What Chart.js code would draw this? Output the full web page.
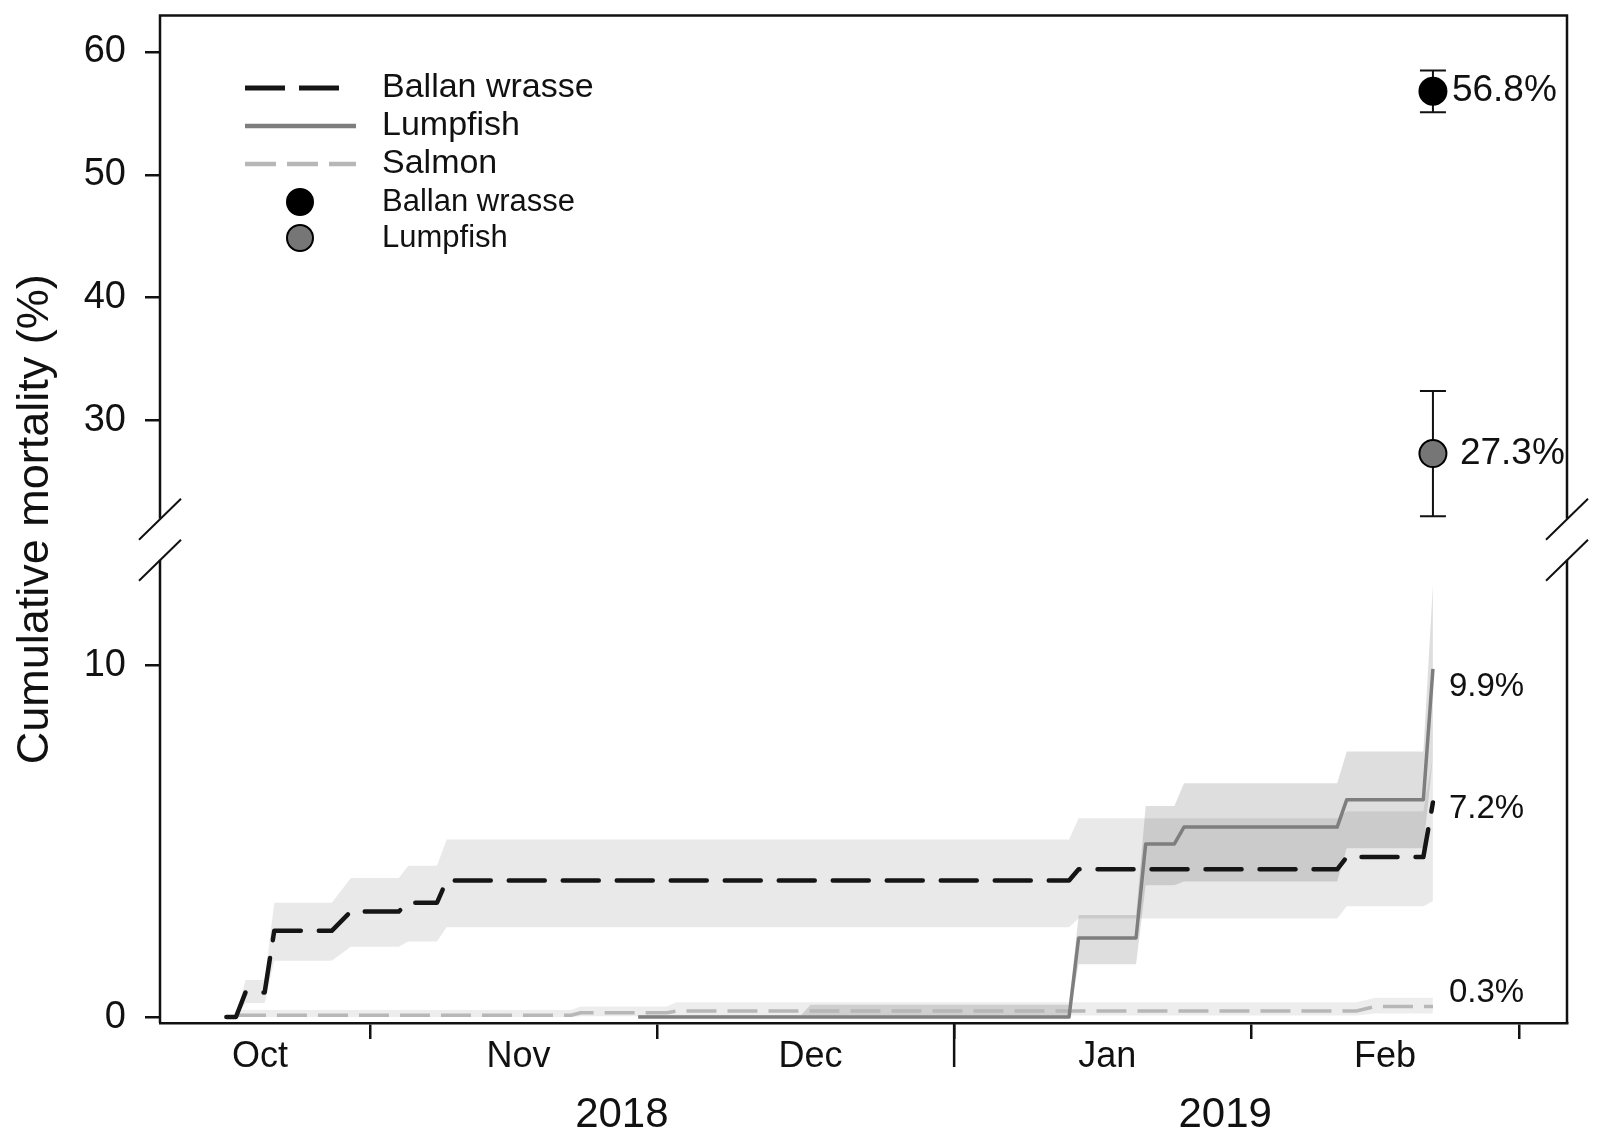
<!DOCTYPE html>
<html>
<head>
<meta charset="utf-8">
<script src="https://cdn.jsdelivr.net/npm/chart.js@4.4.1/dist/chart.umd.min.js"></script>
<style>
  html, body { margin: 0; padding: 0; background: #fff; }
  #wrap { width: 1600px; height: 1146px; }
</style>
</head>
<body>
<div id="wrap"><canvas id="mortalityChart"></canvas></div>
<script>
// x values are days counted from 1 Oct 2018 (= day 0)
const ballanDays = [16, 17, 18, 20, 21, 27, 29, 34, 35, 38, 39, 104, 105, 132, 133, 141, 142]
const ballanMean = [0, 0, 0.7, 0.7, 2.45, 2.45, 3.0, 3.0, 3.25, 3.25, 3.88, 3.88, 4.2, 4.2, 4.55, 4.55, 6.1]
const ballanLow  = [0, 0, 0.4, 0.4, 1.6, 1.6, 2.0, 2.0, 2.15, 2.15, 2.55, 2.55, 2.8, 2.8, 3.15, 3.15, 3.3]
const ballanHigh = [0, 0, 1.05, 1.05, 3.25, 3.25, 3.95, 3.95, 4.3, 4.3, 5.05, 5.05, 5.65, 5.65, 5.85, 5.85, 7.4]

const lumpDays = [59, 76, 77, 104, 105, 111, 112, 115, 116, 132, 133, 141, 142]
const lumpMean = [0, 0, 0, 0, 2.25, 2.25, 4.92, 4.92, 5.4, 5.4, 6.18, 6.18, 9.9]
const lumpLow  = [0, 0, 0, 0, 1.5, 1.5, 3.75, 3.75, 3.85, 3.85, 4.8, 4.8, 7.4]
const lumpHigh = [0.05, 0.05, 0.35, 0.35, 2.9, 2.9, 6.0, 6.0, 6.65, 6.65, 7.55, 7.55, 12.3]

const salmonDays = [17, 52, 53, 62, 63, 134, 136, 142]
const salmonMean = [0.05, 0.05, 0.12, 0.12, 0.17, 0.17, 0.3, 0.3]
const salmonLow  = [0, 0, 0.02, 0.02, 0.04, 0.04, 0.1, 0.1]
const salmonHigh = [0.2, 0.2, 0.3, 0.3, 0.42, 0.42, 0.55, 0.55]

const pointSpecies = ['Ballan wrasse', 'Lumpfish']
const pointDay = 142
const pointValues = [56.8, 27.3]
const pointLow = [55.1, 22.2]
const pointHigh = [58.5, 32.4]

const monthTicks = [31, 61, 92, 123, 151]
const monthLabels = ['Oct', 'Nov', 'Dec', 'Jan', 'Feb']
const monthLabelDays = [19.5, 46.5, 77, 108, 137]
const yearLabels = ['2018', '2019']
const yearLabelDays = [57.3, 120.3]
const upperTicks = [30, 40, 50, 60]
const lowerTicks = [0, 10]

const endLabels = ['56.8%', '27.3%', '9.9%', '7.2%', '0.3%']
const endLabelValues = [56.8, 27.3, 9.38, 5.92, 0.68]

const FONT = "'Liberation Sans', Arial, Helvetica, sans-serif"
const INK = '#111'
const BALLAN_COLOR = '#151515'
const LUMP_COLOR = '#7e7e7e'
const SALMON_COLOR = '#b7b7b7'
const breakUpper = 22.0
const breakLower = 13.0

const toXY = (days, vals) => days.map((d, i) => ({ x: d, y: vals[i] }))

const bandLow = (days, vals) => ({
    data: toXY(days, vals), yAxisID: 'yBot', borderWidth: 0, pointRadius: 0, fill: false, order: 10
})
const bandHigh = (days, vals, color) => ({
    data: toXY(days, vals), yAxisID: 'yBot', borderWidth: 0, pointRadius: 0,
    fill: '-1', backgroundColor: color, order: 10
})

const decor = {
    id: 'decor',
    beforeDatasetsDraw(chart) {
        const { ctx } = chart
        const x = chart.scales.x.getPixelForValue(pointDay)
        const y = chart.scales.yTop
        ctx.save()
        ctx.strokeStyle = INK
        ctx.lineWidth = 2
        pointValues.forEach((v, i) => {
            const lo = y.getPixelForValue(pointLow[i])
            const hi = y.getPixelForValue(pointHigh[i])
            ctx.beginPath()
            ctx.moveTo(x, lo); ctx.lineTo(x, hi)
            ctx.moveTo(x - 13, lo); ctx.lineTo(x + 13, lo)
            ctx.moveTo(x - 13, hi); ctx.lineTo(x + 13, hi)
            ctx.stroke()
        })
        ctx.restore()
    },
    afterDraw(chart) {
        const { ctx, chartArea } = chart
        const { left, right, top, bottom } = chartArea
        const yUp = chart.scales.yTop.getPixelForValue(breakUpper)
        const yLo = chart.scales.yBot.getPixelForValue(breakLower)
        ctx.save()
        ctx.strokeStyle = INK
        ctx.lineWidth = 2.5
        ctx.lineCap = 'butt'
        ctx.beginPath()
        ctx.moveTo(left, yUp); ctx.lineTo(left, top); ctx.lineTo(right, top); ctx.lineTo(right, yUp)
        ctx.moveTo(left, yLo); ctx.lineTo(left, bottom)
        ctx.moveTo(right, yLo); ctx.lineTo(right, bottom)
        ctx.stroke()

        ctx.lineWidth = 2
        ctx.beginPath()
        ;[left, right].forEach(bx => {
            ;[yUp, yLo].forEach(by => {
                ctx.moveTo(bx - 21, by + 21)
                ctx.lineTo(bx + 21, by - 20)
            })
        })
        ctx.stroke()

        // longer tick at the year boundary
        const jan = chart.scales.x.getPixelForValue(monthTicks[2])
        ctx.lineWidth = 2.5
        ctx.beginPath()
        ctx.moveTo(jan, bottom); ctx.lineTo(jan, bottom + 44)
        ctx.stroke()

        ctx.fillStyle = INK
        ctx.textBaseline = 'middle'

        // y axis title
        ctx.save()
        ctx.translate(36, (top + bottom) / 2)
        ctx.rotate(-Math.PI / 2)
        ctx.textAlign = 'center'
        ctx.font = `45px ${FONT}`
        ctx.fillText('Cumulative mortality (%)', 0, 0)
        ctx.restore()

        // end labels
        const px = chart.scales.x.getPixelForValue(pointDay)
        ctx.textAlign = 'left'
        endLabels.forEach((t, i) => {
            const upper = i < 2
            const scale = upper ? chart.scales.yTop : chart.scales.yBot
            ctx.font = `${upper ? 37 : 33}px ${FONT}`
            const dx = i === 0 ? 19 : i === 1 ? 27 : 16
            ctx.fillText(t, px + dx, scale.getPixelForValue(endLabelValues[i]))
        })

        // legend
        const lx = 245, tx = 382
        ctx.font = `34px ${FONT}`
        ctx.lineCap = 'butt'
        ctx.strokeStyle = BALLAN_COLOR
        ctx.lineWidth = 5
        ctx.setLineDash([40, 14])
        ctx.beginPath(); ctx.moveTo(lx, 88); ctx.lineTo(lx + 95, 88); ctx.stroke()
        ctx.setLineDash([])
        ctx.strokeStyle = LUMP_COLOR
        ctx.lineWidth = 4.5
        ctx.beginPath(); ctx.moveTo(lx, 126); ctx.lineTo(lx + 111, 126); ctx.stroke()
        ctx.strokeStyle = SALMON_COLOR
        ctx.setLineDash([31, 11])
        ctx.beginPath(); ctx.moveTo(lx, 164); ctx.lineTo(lx + 111, 164); ctx.stroke()
        ctx.setLineDash([])
        ctx.fillText('Ballan wrasse', tx, 88)
        ctx.fillText('Lumpfish', tx, 126)
        ctx.fillText('Salmon', tx, 164)
        ctx.font = `31px ${FONT}`
        ;[['#000', 202], ['#767676', 238]].forEach(([c, cy], i) => {
            ctx.beginPath()
            ctx.arc(300, cy, 13, 0, Math.PI * 2)
            ctx.fillStyle = c
            ctx.fill()
            ctx.lineWidth = 2
            ctx.strokeStyle = '#000'
            ctx.stroke()
            ctx.fillStyle = INK
            ctx.fillText(pointSpecies[i], tx, cy)
        })
        ctx.restore()
    }
}

const yCommon = {
    type: 'linear',
    position: 'left',
    stack: 'y',
    border: { display: false },
    grid: { drawOnChartArea: false, drawTicks: true, tickLength: 15, color: INK, lineWidth: 2.5 },
    ticks: { font: { family: FONT, size: 38 }, color: INK, padding: 19 },
    afterFit: s => { s.width = 160; s.paddingTop = 0; s.paddingBottom = 0 }
}

const xFit = h => s => { s.height = h; s.paddingLeft = 0; s.paddingRight = 0 }

const xCommon = { type: 'linear', position: 'bottom', min: 9.07, max: 156 }

new Chart(document.getElementById('mortalityChart'), {
    type: 'line',
    data: {
        datasets: [
            bandLow(ballanDays, ballanLow),
            bandHigh(ballanDays, ballanHigh, 'rgba(0,0,0,0.085)'),
            bandLow(lumpDays, lumpLow),
            bandHigh(lumpDays, lumpHigh, 'rgba(0,0,0,0.13)'),
            bandLow(salmonDays, salmonLow),
            bandHigh(salmonDays, salmonHigh, 'rgba(0,0,0,0.07)'),
            {
                label: 'Salmon', data: toXY(salmonDays, salmonMean), yAxisID: 'yBot',
                borderColor: SALMON_COLOR, borderWidth: 3.5, borderDash: [30, 11],
                pointRadius: 0, fill: false, order: 3
            },
            {
                label: 'Lumpfish', data: toXY(lumpDays, lumpMean), yAxisID: 'yBot',
                borderColor: LUMP_COLOR, borderWidth: 3.5, pointRadius: 0, fill: false, order: 2
            },
            {
                label: 'Ballan wrasse', data: toXY(ballanDays, ballanMean), yAxisID: 'yBot',
                borderColor: BALLAN_COLOR, borderWidth: 4.5, borderDash: [36, 18], borderCapStyle: 'round',
                pointRadius: 0, fill: false, order: 1
            },
            {
                type: 'scatter', label: pointSpecies[0], data: [{ x: pointDay, y: pointValues[0] }], yAxisID: 'yTop',
                pointRadius: 13.5, backgroundColor: '#000', borderColor: '#000', borderWidth: 2, order: 0
            },
            {
                type: 'scatter', label: pointSpecies[1], data: [{ x: pointDay, y: pointValues[1] }], yAxisID: 'yTop',
                pointRadius: 13.5, backgroundColor: '#767676', borderColor: '#000', borderWidth: 2, order: 0
            }
        ]
    },
    options: {
        responsive: true,
        maintainAspectRatio: false,
        animation: false,
        layout: { padding: { left: 0, top: 12, right: 33, bottom: 0 } },
        plugins: { legend: { display: false }, tooltip: { enabled: false } },
        elements: { line: { tension: 0, borderJoinStyle: 'round' } },
        scales: {
            yBot: {
                ...yCommon, stackWeight: 486, min: -0.17, max: 13.6,
                afterBuildTicks: s => { s.ticks = lowerTicks.map(v => ({ value: v })) }
            },
            yTop: {
                ...yCommon, stackWeight: 525, min: 20.37, max: 62.97,
                afterBuildTicks: s => { s.ticks = upperTicks.map(v => ({ value: v })) }
            },
            x: {
                ...xCommon,
                border: { display: true, color: INK, width: 2.5 },
                grid: { drawOnChartArea: false, drawTicks: true, tickLength: 16, color: INK, lineWidth: 2.5 },
                ticks: { display: false },
                afterBuildTicks: s => { s.ticks = monthTicks.map(v => ({ value: v })) },
                afterFit: xFit(4)
            },
            xMonth: {
                ...xCommon,
                border: { display: false },
                grid: { display: false },
                ticks: {
                    font: { family: FONT, size: 36 }, color: INK, padding: 0,
                    autoSkip: false, maxRotation: 0,
                    callback: (v, i) => monthLabels[i]
                },
                afterBuildTicks: s => { s.ticks = monthLabelDays.map(v => ({ value: v })) },
                afterFit: xFit(50)
            },
            xYear: {
                ...xCommon,
                border: { display: false },
                grid: { display: false },
                ticks: {
                    font: { family: FONT, size: 42 }, color: INK, padding: 5,
                    autoSkip: false, maxRotation: 0,
                    callback: (v, i) => yearLabels[i]
                },
                afterBuildTicks: s => { s.ticks = yearLabelDays.map(v => ({ value: v })) },
                afterFit: xFit(69)
            }
        }
    },
    plugins: [decor]
})
</script>
</body>
</html>
